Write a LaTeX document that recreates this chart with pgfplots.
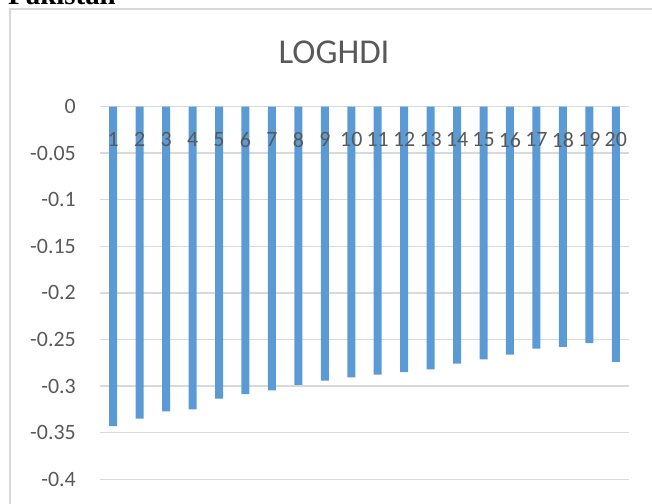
\documentclass[border=0pt]{standalone}
\usepackage{pgfplots}
\pgfplotsset{compat=1.18}
\usepackage{fontspec}
\setmainfont{Carlito}
\newfontfamily\serifbold{Liberation Serif}
\definecolor{barblue}{HTML}{5B9BD5}
\definecolor{gridgray}{HTML}{D9D9D9}
\definecolor{txtgray}{HTML}{595959}
\pgfplotsset{
  basegeom/.style={
    scale only axis,
    width=529bp, height=372.8bp,
    anchor=south west, at={(100bp,-479.3bp)},
    xmin=0.5, xmax=20.5, ymin=-0.4, ymax=0,
    axis line style={draw=none},
    major tick length=0pt,
    tick style={draw=none},
    ticklabel style={text=txtgray, font=\fontsize{22}{25}\selectfont},
    clip=false,
  },
}
\pgfplotstableread{
x y
1 -0.343
2 -0.335
3 -0.327
4 -0.325
5 -0.3135
6 -0.3085
7 -0.3046
8 -0.2988
9 -0.294
10 -0.2906
11 -0.2877
12 -0.2849
13 -0.282
14 -0.276
15 -0.2713
16 -0.2663
17 -0.2598
18 -0.258
19 -0.254
20 -0.274
}\loghdi
\begin{document}
\begin{tikzpicture}
\useasboundingbox (0,0) rectangle (652bp,-504bp);
\node[anchor=base west, inner sep=0pt, font=\fontsize{29}{30}\selectfont\serifbold\bfseries] at (8bp,-4bp) {Pakistan};
\draw[gridgray, line width=2bp] (10bp,-520bp) -- (10bp,-9bp) -- (670bp,-9bp);
\node[anchor=base, inner sep=0pt, text=txtgray, font=\fontsize{35}{40}\selectfont] at (334bp,-63.3bp) {LOGHDI};
\begin{axis}[
  basegeom,
  ymajorgrids,
  grid style={gridgray, line width=1.5bp},
  xtick=\empty,
  ytick={-0.4,-0.35,-0.3,-0.25,-0.2,-0.15,-0.1,-0.05,0},
  yticklabels={-0.4,-0.35,-0.3,-0.25,-0.2,-0.15,-0.1,-0.05,0},
  yticklabel style={anchor=east, inner sep=0pt, xshift=-24bp},
  ybar, bar width=8bp,
]
\addplot[fill=barblue, draw=none] table[x=x,y=y] {\loghdi};
\end{axis}
\begin{axis}[
  basegeom,
  ytick=\empty,
  xtick={1,2,3,4,5,6,7,8,9,10,11,12,13,14,15,16,17,18,19,20},
  xticklabels={1,2,3,4,5,6,7,8,9,10,11,12,13,14,15,16,17,18,19,20},
  xticklabel pos=upper,
  xticklabel style={anchor=north, inner sep=0pt, yshift=-26bp},
]
\end{axis}
\end{tikzpicture}
\end{document}
